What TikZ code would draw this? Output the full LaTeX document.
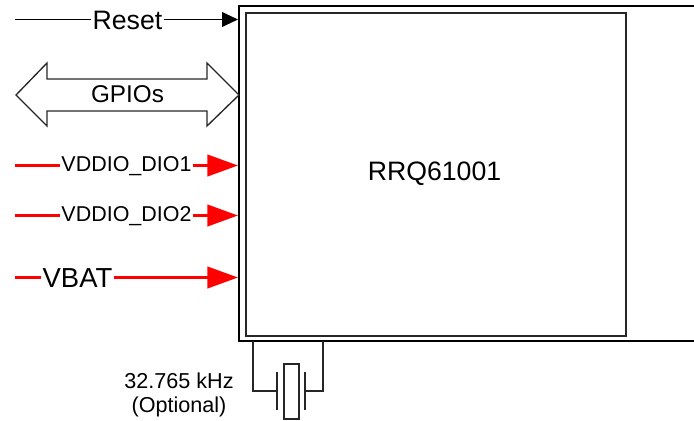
\documentclass[tikz,border=0pt]{standalone}
\usepackage{fontspec}
\setmainfont{Liberation Sans}
\usetikzlibrary{arrows.meta,calc}
\tikzset{
  lbl/.style={inner sep=0pt,outer sep=1pt,text=black},
  box/.style={draw=black,line width=1.6pt},
  thin wire/.style={draw=black!85,line width=1pt},
  blackarrow/.style={draw=black,line width=1.4pt,-{Triangle[length=12pt,width=11pt]}},
  blackline/.style={draw=black,line width=1.4pt},
  redarrow/.style={draw=red,line width=2.4pt,-{Triangle[length=23pt,width=16pt]}},
  redline/.style={draw=red,line width=2.4pt},
}
\begin{document}
\begin{tikzpicture}[x=0.75pt,y=-0.75pt]
\useasboundingbox (0,0) rectangle (694,421);
% chip boxes
\coordinate (otr) at (694,6);
\coordinate (otl) at (239,6);
\coordinate (obl) at (239,341);
\coordinate (obr) at (694,341);
\draw[box] (otr) -- (otl) -- (obl) -- (obr);
\node[draw=black!85,line width=1.5pt,minimum width=285pt,minimum height=242.5pt,inner sep=0pt,anchor=north west] (chip) at (245,12) {};
\node[lbl,font=\fontsize{20}{22}\selectfont] (chipname) at (434.5,174) {RRQ61001};
% Reset
\coordinate (rs) at (15,19.5);
\coordinate (re) at (238,19.5);
\node[lbl,font=\fontsize{20}{22}\selectfont] (reset) at (127.5,20.5) {Reset};
\draw[blackline] (rs) -- (reset.west |- rs);
\draw[blackarrow] (reset.east |- re) -- (re);
% GPIOs
\node[lbl,font=\fontsize{18.2}{22}\selectfont] (gpio) at (127.5,94.5) {GPIOs};
\coordinate (gl) at (16,95);
\coordinate (gr) at (239,95);
\draw[thin wire,line join=miter] (gl) -- (47,63) -- (47,79) -- (207,79) -- (207,63) -- (gr) -- (207,126) -- (207,111) -- (47,111) -- (47,126) -- cycle;
% supplies
\coordinate (d1s) at (15,165.5);
\coordinate (d1e) at (238,165.5);
\node[lbl,font=\fontsize{16.1}{20}\selectfont] (d1) at (126.5,166) {VDDIO\_DIO1};
\draw[redline] (d1s) -- (d1.west |- d1s);
\draw[redarrow] (d1.east |- d1e) -- (d1e);
\coordinate (d2s) at (15,215.5);
\coordinate (d2e) at (238,215.5);
\node[lbl,font=\fontsize{16.1}{20}\selectfont] (d2) at (126.5,216) {VDDIO\_DIO2};
\draw[redline] (d2s) -- (d2.west |- d2s);
\draw[redarrow] (d2.east |- d2e) -- (d2e);
\coordinate (vs) at (15,277.5);
\coordinate (ve) at (238,277.5);
\node[lbl,font=\fontsize{20.6}{22}\selectfont] (vbat) at (77.5,278.5) {VBAT};
\draw[redline] (vs) -- (vbat.west |- vs);
\draw[redarrow] (vbat.east |- ve) -- (ve);
% crystal
\node[draw=black!85,line width=1pt,minimum width=11.25pt,minimum height=41.25pt,inner sep=0pt] (xtal) at (291.5,391.5) {};
\coordinate (pl1) at (277,372);
\coordinate (pl2) at (277,410);
\coordinate (pr1) at (305,372);
\coordinate (pr2) at (305,410);
\draw[thin wire] (pl1) -- (pl2);
\draw[thin wire] (pr1) -- (pr2);
\coordinate (ltop) at (253,341);
\coordinate (rtop) at (323,341);
\draw[thin wire] (ltop) -- (253,391) -- (277,391);
\draw[thin wire] (rtop) -- (323,391) -- (305,391);
\node[lbl,font=\fontsize{16.2}{19}\selectfont] (f1) at (179,381) {32.765 kHz};
\node[lbl,font=\fontsize{16.2}{19}\selectfont] (f2) at (179,407) {(Optional)};
\end{tikzpicture}
\end{document}
